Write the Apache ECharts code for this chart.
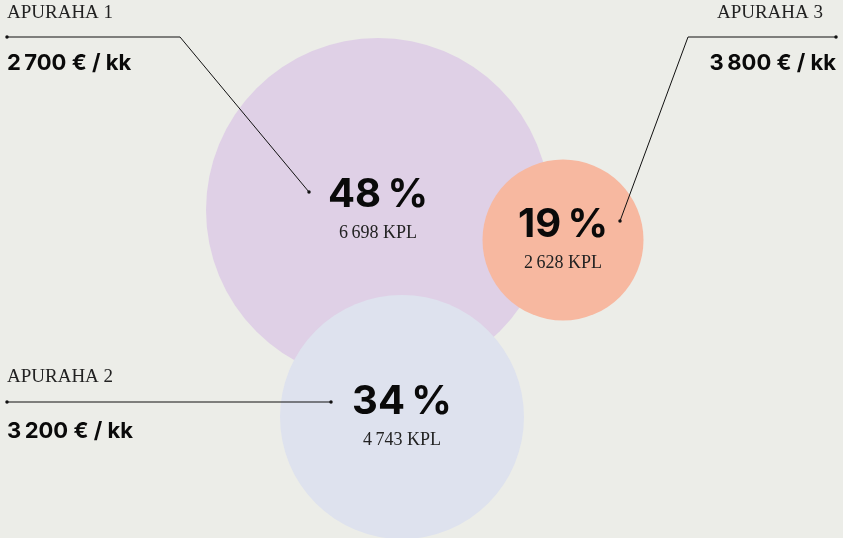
<!DOCTYPE html>
<html>
<head>
<meta charset="utf-8">
<script src="https://cdn.jsdelivr.net/npm/echarts@6/dist/echarts.min.js"></script>
<style>
html,body{margin:0;padding:0;background:#ecede8;}
#chart{width:843px;height:538px;}
</style>
</head>
<body>
<div id="chart"></div>
<script>
// ---- data ----
var categories = ['APURAHA 1', 'APURAHA 3', 'APURAHA 2'];
var shares = [48, 19, 34];                 // percent
var counts = ['6\u202f698', '2\u202f628', '4\u202f743']; // KPL
var grants = ['2\u202f700 € / kk', '3\u202f800 € / kk', '3\u202f200 € / kk'];

// ---- layout (pixel-like coordinates on a hidden grid) ----
var W = 843, H = 538;
var bubbleLayout = [
  {cx: 378, cy: 210, d: 344, color: '#dfd0e6'},
  {cx: 563, cy: 240, d: 161, color: '#f7b8a0'},
  {cx: 402, cy: 417, d: 244, color: '#dee2ee'}
];
var leaderLayout = [
  [[7, 37], [180, 37], [309, 192]],
  [[836, 37], [688, 37], [620, 221]],
  [[7, 402], [331, 402]]
];
var titleLayout = [
  {x: 7, y: 13, align: 'left'},
  {x: 823, y: 13, align: 'right'},
  {x: 7, y: 377, align: 'left'}
];
var grantLayout = [
  {x: 7, y: 63, align: 'left'},
  {x: 836, y: 63, align: 'right'},
  {x: 7, y: 431, align: 'left'}
];

var chart = echarts.init(document.getElementById('chart'), null, {renderer: 'canvas'});

var bubbleData = shares.map(function (s, i) {
  var b = bubbleLayout[i];
  return {
    value: [b.cx, b.cy],
    symbolSize: b.d,
    itemStyle: {color: b.color, opacity: 1},
    label: {formatter: '{p|' + s + '\u2009%}\n{k|' + counts[i] + ' KPL}'}
  };
});

var series = [];
series.push({
  type: 'scatter',
  data: bubbleData,
  symbol: 'circle',
  z: 1,
  silent: true,
  itemStyle: {opacity: 1},
  label: {
    show: true,
    position: 'inside',
    offset: [0, 5],
    color: '#111',
    rich: {
      p: {fontFamily: 'Inter', fontWeight: 'bold', fontSize: 40, lineHeight: 36, color: '#0a0a0a'},
      k: {fontFamily: 'Liberation Serif', fontSize: 18, lineHeight: 40, color: '#222'}
    }
  }
});

leaderLayout.forEach(function (pts) {
  series.push({
    type: 'line',
    z: 5,
    silent: true,
    data: pts.map(function (p, j) {
      var end = (j === 0 || j === pts.length - 1);
      return {value: p, symbol: end ? 'circle' : 'none', symbolSize: 3.5};
    }),
    lineStyle: {color: '#111', width: 1},
    itemStyle: {color: '#111', opacity: 1},
    animation: false
  });
});

var graphics = [];
categories.forEach(function (c, i) {
  var t = titleLayout[i];
  graphics.push({
    type: 'text', x: t.x, y: t.y, silent: true,
    style: {text: c, fill: '#222', font: '19px "Liberation Serif"', align: t.align, verticalAlign: 'middle'}
  });
  var g = grantLayout[i];
  graphics.push({
    type: 'text', x: g.x, y: g.y, silent: true,
    style: {text: grants[i], fill: '#0a0a0a', font: 'bold 22px Inter', align: g.align, verticalAlign: 'middle'}
  });
});

chart.setOption({
  backgroundColor: '#ecede8',
  animation: false,
  grid: {left: 0, right: 0, top: 0, bottom: 0},
  xAxis: {type: 'value', min: 0, max: W, show: false},
  yAxis: {type: 'value', min: 0, max: H, inverse: true, show: false},
  series: series,
  graphic: graphics
});
</script>
</body>
</html>
